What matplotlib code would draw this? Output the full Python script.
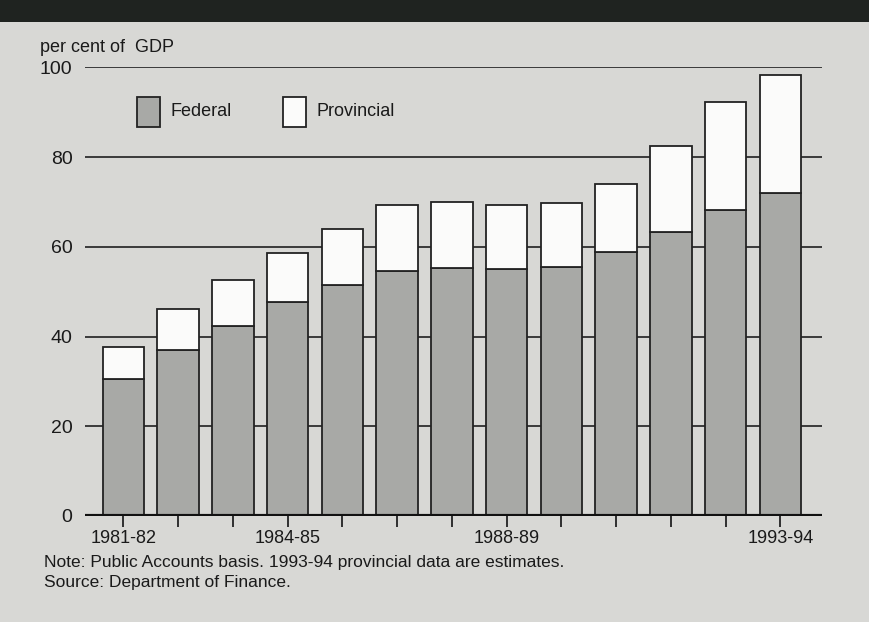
import numpy as np
import matplotlib.pyplot as plt
from matplotlib.patches import Rectangle

plt.rcParams['font.family'] = ['Liberation Sans', 'DejaVu Sans']

# debt as per cent of GDP
years = ['1981-82', '1982-83', '1983-84', '1984-85', '1985-86', '1986-87', '1987-88',
         '1988-89', '1989-90', '1990-91', '1991-92', '1992-93', '1993-94']
federal = [30.5, 37.1, 42.4, 47.7, 51.4, 54.7, 55.2, 55.0, 55.5, 58.8, 63.3, 68.1, 71.9]
total = [37.6, 46.1, 52.6, 58.7, 64.0, 69.4, 70.0, 69.4, 69.7, 74.0, 82.4, 92.2, 98.2]
provincial = [t - f for t, f in zip(total, federal)]
shown_labels = ['1981-82', '1984-85', '1988-89', '1993-94']

bg = '#d8d8d5'
fed_col = '#a8a9a6'
prov_col = '#fbfbfa'

fig = plt.figure(figsize=(8.69, 6.22), dpi=100)
fig.patch.set_facecolor(bg)

# dark band across the top
fig.patches.append(Rectangle((0, 1 - 22 / 622), 1, 22 / 622, transform=fig.transFigure,
                             facecolor='#1f2320', edgecolor='none'))

ax = fig.add_axes([85 / 869, 1 - 516 / 622, (822 - 85) / 869, (516 - 67.3) / 622])
ax.set_facecolor(bg)

x = np.arange(len(years))
ax.bar(x, federal, width=0.76, color=fed_col, edgecolor='#222222', linewidth=1.3, zorder=3)
ax.bar(x, provincial, bottom=federal, width=0.76, color=prov_col, edgecolor='#222222',
       linewidth=1.3, zorder=3)

ax.set_xlim(-0.70, 12.76)
ax.set_ylim(0, 100)
for v in [20, 40, 60, 80, 100]:
    ax.axhline(v, color='#2e2e2e', linewidth=1.3, zorder=1)
ax.axhline(0, color='#111111', linewidth=3, zorder=4)

for s in ax.spines.values():
    s.set_visible(False)

ax.set_yticks([0, 20, 40, 60, 80, 100])
ax.tick_params(axis='y', length=0, pad=9, labelsize=14, labelcolor='#1a1a1a')
ax.set_xticks(x)
ax.set_xticklabels([y if y in shown_labels else '' for y in years])
ax.tick_params(axis='x', length=8, width=1.3, color='#222222', direction='out', pad=2,
               labelsize=13, labelcolor='#1a1a1a')

fig.text(40 / 869, 1 - 47 / 622, 'per cent of  GDP', fontsize=13, color='#1a1a1a', va='center')

# legend boxes
for bx, col, lab in [(137, fed_col, 'Federal'), (283, prov_col, 'Provincial')]:
    fig.patches.append(Rectangle((bx / 869, 1 - 127 / 622), 23 / 869, 30 / 622,
                                 transform=fig.transFigure, facecolor=col,
                                 edgecolor='#222222', linewidth=1.3))
    fig.text((bx + 34) / 869, 1 - 112 / 622, lab, fontsize=13, color='#1a1a1a', va='center')

fig.text(44 / 869, 1 - 562 / 622, 'Note: Public Accounts basis. 1993-94 provincial data are estimates.',
         fontsize=12.5, color='#1a1a1a', va='center')
fig.text(44 / 869, 1 - 583 / 622, 'Source: Department of Finance.',
         fontsize=12.5, color='#1a1a1a', va='center')

fig.savefig('out.png', dpi=100, facecolor=fig.get_facecolor())
